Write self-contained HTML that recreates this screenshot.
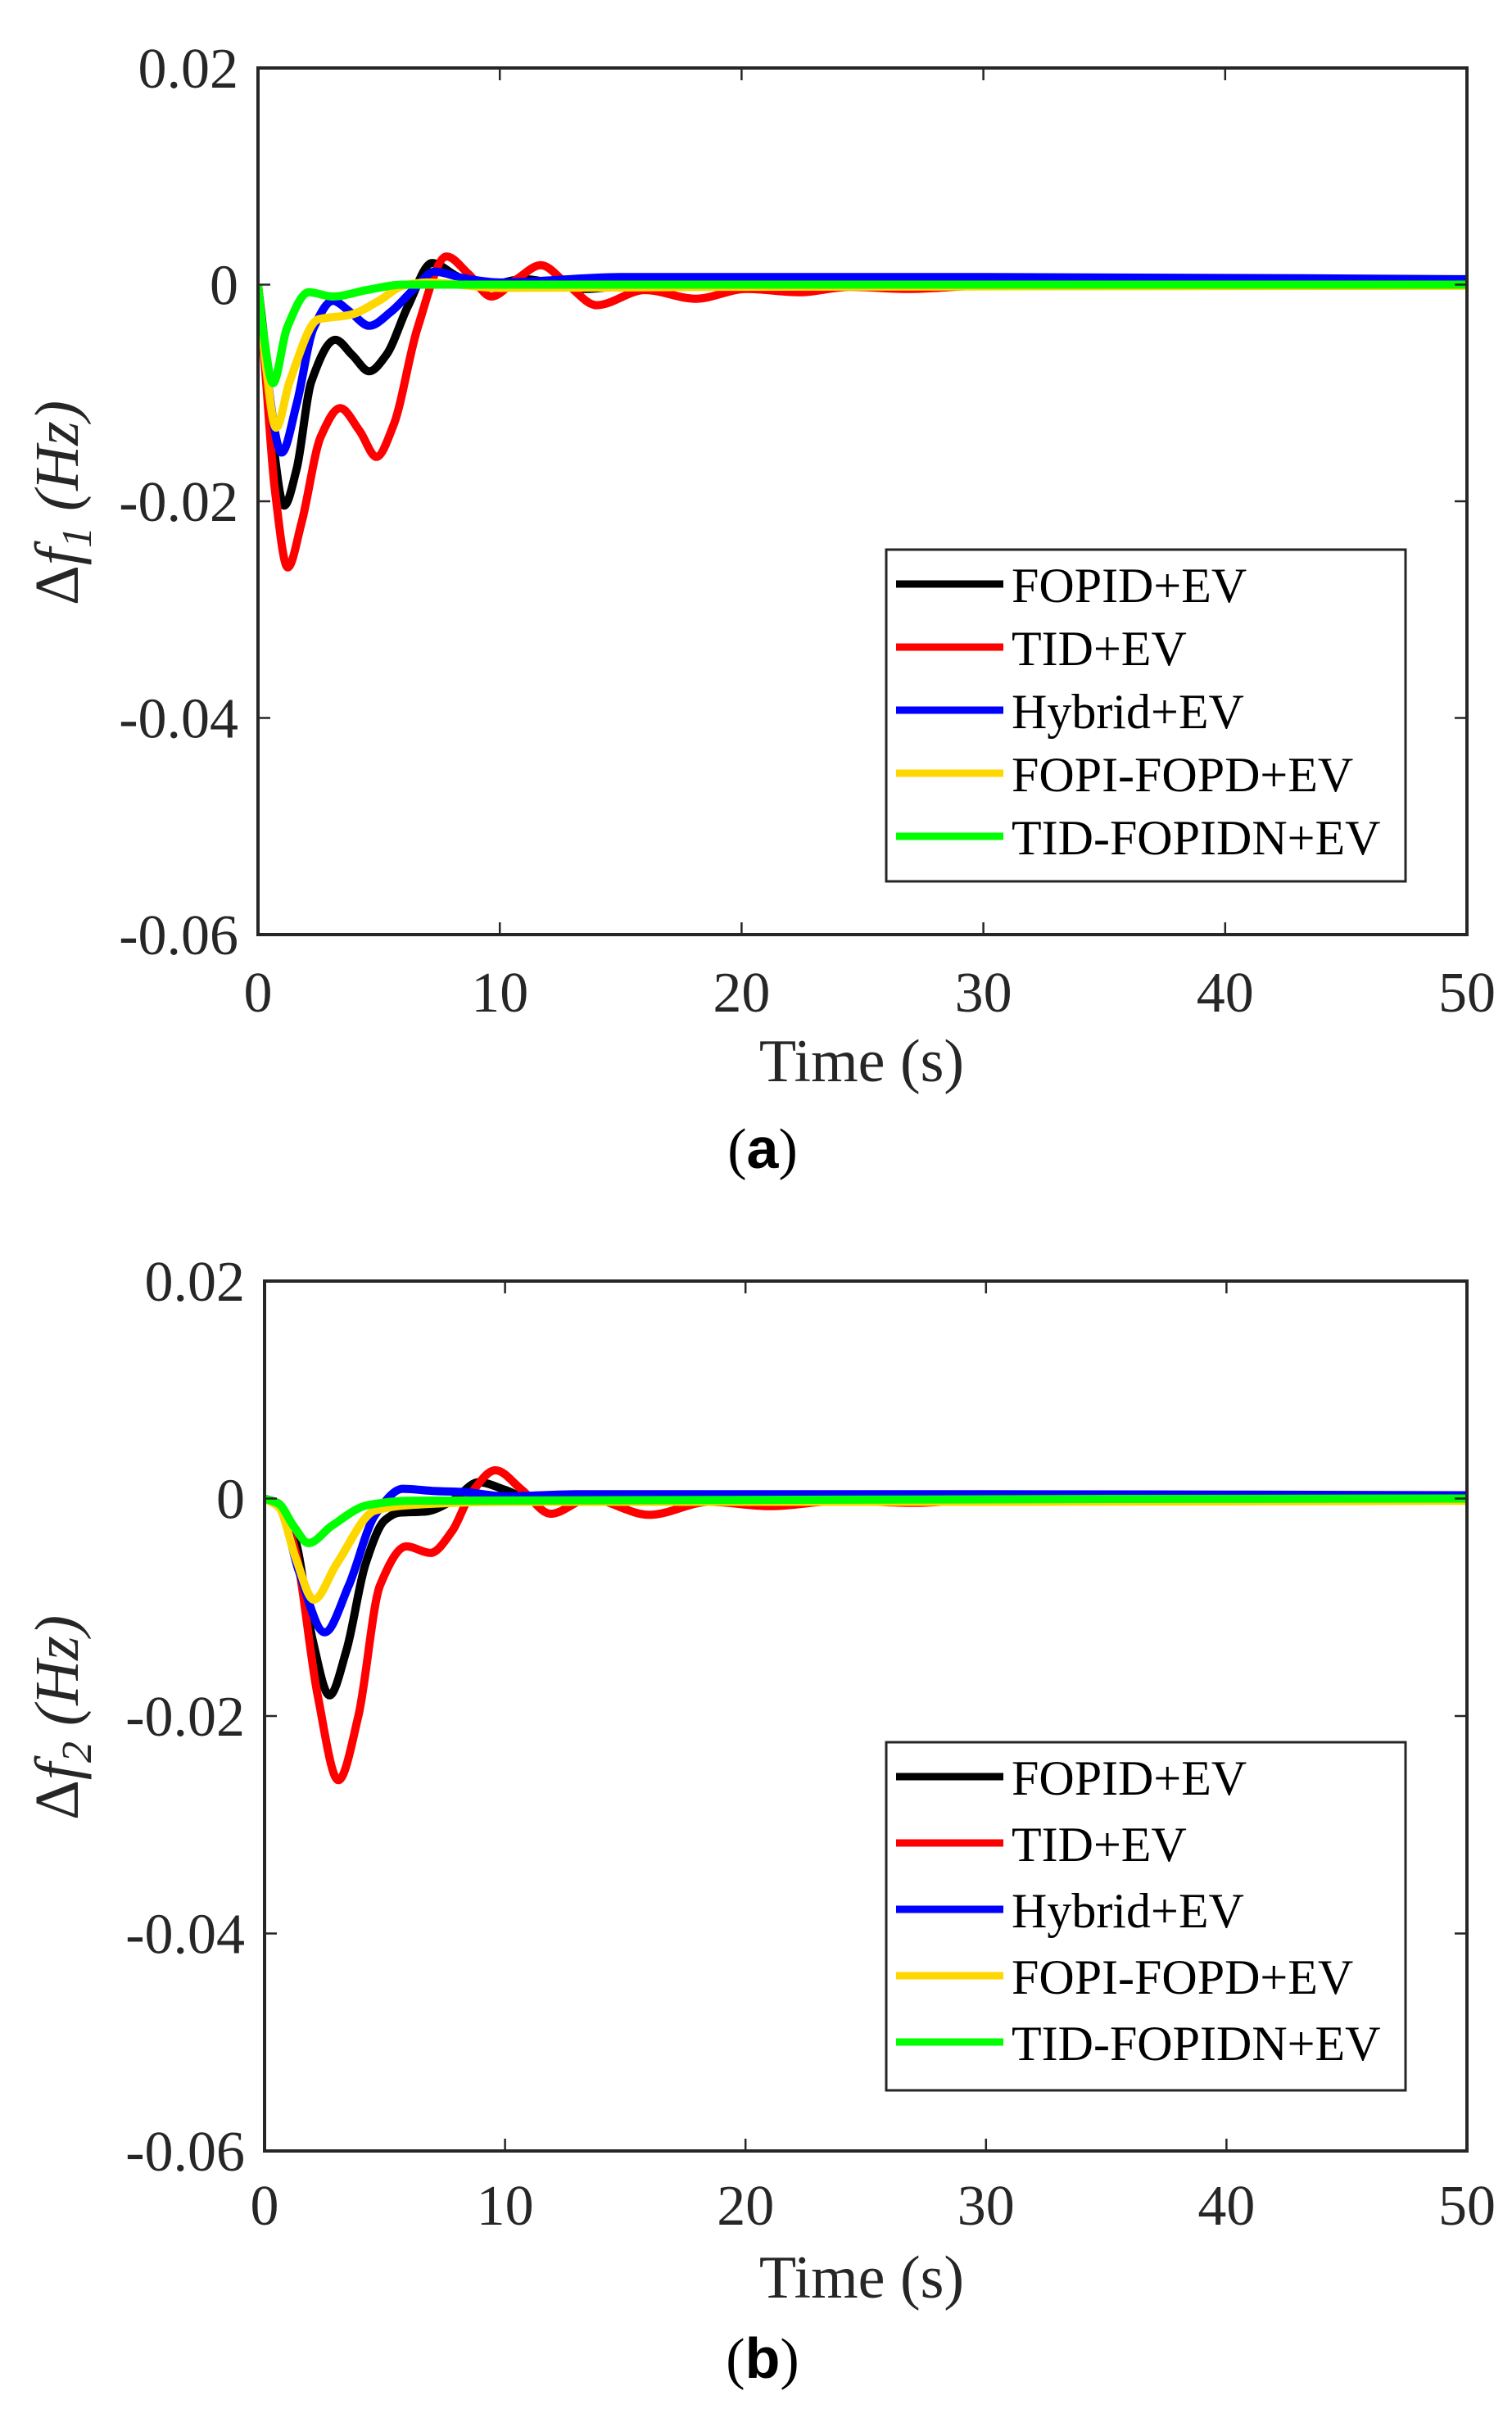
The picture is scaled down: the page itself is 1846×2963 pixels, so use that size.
<!DOCTYPE html>
<html><head><meta charset="utf-8"><style>
html,body{margin:0;padding:0;background:#fff;}
svg{display:block;}
text{font-family:"Liberation Serif",serif;fill:#262626;}
</style></head><body>
<svg id="fig" width="1846" height="2963" viewBox="0 0 1846 2963" xmlns="http://www.w3.org/2000/svg"></svg>
<script>
const seriesNames = ["FOPID+EV","TID+EV","Hybrid+EV","FOPI-FOPD+EV","TID-FOPIDN+EV"];
const seriesColors = ["#000000","#ff0000","#0000ff","#ffd700","#00ff00"];
const xTicks = [0,10,20,30,40,50];
const yTicks = [0.02,0,-0.02,-0.04,-0.06];
const yTickLabels = ["0.02","0","-0.02","-0.04","-0.06"];

// Panel (a)
const aBlackT = [0,0.3,0.6,1.08,1.6,2.2,3.2,3.9,4.6,5.3,6.2,7.2,8.2,9.2,11,13.5,16,20,50];
const aBlackV = [0,-0.006,-0.014,-0.0204,-0.017,-0.009,-0.0051,-0.0065,-0.008,-0.0065,-0.002,0.002,0.0008,-0.0002,0.0005,-0.0004,0.0001,0,0];
const aRedT = [0,0.3,0.7,1.23,1.8,2.6,3.4,4.2,4.9,5.6,6.6,7.8,8.7,9.65,10.7,11.7,12.8,14,16,18.1,20.2,22.4,24.5,26.9,30,50];
const aRedV = [0,-0.008,-0.019,-0.0261,-0.022,-0.014,-0.0114,-0.0135,-0.0159,-0.013,-0.004,0.0026,0.001,-0.0011,0.0005,0.0018,0.0,-0.0019,-0.0005,-0.0013,-0.0004,-0.0007,-0.0002,-0.0004,-0.0001,0];
const aBlueT = [0,0.3,0.98,1.6,2.3,3.1,3.8,4.6,5.5,6.5,7.3,8.5,10,15,30,50];
const aBlueV = [0,-0.007,-0.0155,-0.011,-0.004,-0.0015,-0.0025,-0.0038,-0.0025,-0.0003,0.0012,0.0006,0.0002,0.0007,0.0007,0.0005];
const aYellowT = [0,0.3,0.75,1.3,2.5,3.8,5,6,7,10,20,50];
const aYellowV = [0,-0.007,-0.0132,-0.009,-0.0032,-0.0028,-0.0015,-0.0001,0.0002,-0.0003,-0.0002,-0.0001];
const aGreenT = [0,0.2,0.62,1.2,2.1,3.1,4.5,6,50];
const aGreenV = [0,-0.004,-0.0091,-0.004,-0.0007,-0.0011,-0.0005,0,0];

// Panel (b)
const bBlackT = [0,0.6,1.3,2,2.7,3.4,4.2,5,5.6,6.7,7.8,8.9,10,11,13,50];
const bBlackV = [0,-0.0005,-0.004,-0.013,-0.0181,-0.014,-0.006,-0.002,-0.0013,-0.0012,-0.0002,0.0015,0.0008,0,0,0];
const bRedT = [0,0.6,1.3,2.2,3.07,3.9,4.8,5.9,6.9,7.8,8.6,9.6,10.7,11.9,13.5,16,18.5,21,24,27,30,50];
const bRedV = [0,-0.0005,-0.005,-0.018,-0.0259,-0.02,-0.008,-0.0044,-0.005,-0.003,0.0005,0.0026,0.0008,-0.0014,0,-0.0015,-0.0003,-0.0007,-0.0002,-0.0004,-0.0001,0];
const bBlueT = [0,0.6,1.4,2.5,3.5,4.6,5.75,7,8.3,10,13,30,50];
const bBlueV = [0,-0.0005,-0.0065,-0.0123,-0.008,-0.0015,0.0009,0.0007,0.0006,0.0002,0.0004,0.0004,0.0003];
const bYellowT = [0,0.6,1.3,2.05,3,4.6,6,10,30,50];
const bYellowV = [0,-0.0008,-0.0055,-0.0093,-0.006,-0.0011,-0.0006,-0.0003,-0.0003,-0.0002];
const bGreenT = [0,0.6,1.2,1.83,2.8,4.3,6,50];
const bGreenV = [0,-0.0005,-0.0025,-0.0041,-0.0025,-0.0006,-0.0002,0];

const NS = "http://www.w3.org/2000/svg";
const svg = document.getElementById("fig");
function mk(tag, attrs, parent){
  const e = document.createElementNS(NS, tag);
  for (const k in attrs) e.setAttribute(k, attrs[k]);
  (parent||svg).appendChild(e);
  return e;
}
function pathFrom(pts){
  const n = pts.length;
  const d = [], m = [];
  for (let i=0;i<n-1;i++) d.push((pts[i+1][1]-pts[i][1])/(pts[i+1][0]-pts[i][0]));
  m[0]=d[0]; m[n-1]=d[n-2];
  for (let i=1;i<n-1;i++){
    if (d[i-1]*d[i]<=0) m[i]=0;
    else {
      const h0=pts[i][0]-pts[i-1][0], h1=pts[i+1][0]-pts[i][0];
      const w1=2*h1+h0, w2=h1+2*h0;
      m[i]=(w1+w2)/(w1/d[i-1]+w2/d[i]);
    }
  }
  let s = "M"+pts[0][0].toFixed(1)+","+pts[0][1].toFixed(1);
  for (let i=0;i<n-1;i++){
    const h = pts[i+1][0]-pts[i][0];
    const c1x=pts[i][0]+h/3, c1y=pts[i][1]+m[i]*h/3;
    const c2x=pts[i+1][0]-h/3, c2y=pts[i+1][1]-m[i+1]*h/3;
    s+=" C"+c1x.toFixed(1)+","+c1y.toFixed(1)+" "+c2x.toFixed(1)+","+c2y.toFixed(1)+" "+pts[i+1][0].toFixed(1)+","+pts[i+1][1].toFixed(1);
  }
  return s;
}

function panel(cfg){
  const {L,R,T,B,id,sub,series,legTop,labelCY,xLabelY,capY,capText,xTickY} = cfg;
  const g = mk("g",{});
  
  
  const xs = t => L + (t-0)/(50-0)*(R-L);
  const ys = v => T + (0.02-v)/(0.08)*(B-T);
  mk("rect",{x:L,y:T,width:R-L,height:B-T,fill:"#fff"},g);
  const clipId = "clip"+id;
  const defs = mk("defs",{},g);
  const cp = mk("clipPath",{id:clipId},defs);
  mk("rect",{x:L,y:T,width:R-L,height:B-T},cp);
  const lg = mk("g",{"clip-path":"url(#"+clipId+")"},g);
  series.forEach((s,i)=>{
    const pts = s[0].map((t,j)=>[xs(t), ys(s[1][j])]);
    const p = mk("path",{d:pathFrom(pts),fill:"none",stroke:seriesColors[i],"stroke-width":10,"stroke-linejoin":"round","stroke-linecap":"butt"},lg);
    
    
  });
  const box = mk("rect",{x:L,y:T,width:R-L,height:B-T,fill:"none",stroke:"#262626","stroke-width":4},g);
  
  
  xTicks.forEach(t=>{
    const x = xs(t);
    mk("line",{x1:x,y1:B,x2:x,y2:B-15,stroke:"#262626","stroke-width":2.5},g);
    mk("line",{x1:x,y1:T,x2:x,y2:T+15,stroke:"#262626","stroke-width":2.5},g);
    const tx = mk("text",{x:x,y:xTickY,"font-size":70,"text-anchor":"middle"},g);
    tx.textContent = String(t);
    
    
  });
  yTicks.forEach((v,i)=>{
    const y = ys(v);
    mk("line",{x1:L,y1:y,x2:L+15,y2:y,stroke:"#262626","stroke-width":2.5},g);
    mk("line",{x1:R,y1:y,x2:R-15,y2:y,stroke:"#262626","stroke-width":2.5},g);
    const tx = mk("text",{x:L-24,y:y+24,"font-size":70,"text-anchor":"end"},g);
    tx.textContent = yTickLabels[i];
    
    
  });
  const yl = mk("text",{x:0,y:0,"font-size":76,"text-anchor":"middle",transform:"translate(95,"+labelCY+") rotate(-90)"},g);
  yl.innerHTML = 'Δ<tspan font-style="italic">f</tspan><tspan font-style="italic" font-size="52" dy="16">'+sub+'</tspan><tspan dy="-16"> </tspan><tspan font-style="italic">(Hz)</tspan>';
  
  
  const xl = mk("text",{x:1052,y:xLabelY,"font-size":74,"text-anchor":"middle"},g);
  xl.textContent = "Time (s)";
  
  
  const cap = mk("text",{x:931,y:capY,"font-size":70,"text-anchor":"middle"},g);
  cap.innerHTML = '(<tspan font-weight="bold" font-family="Liberation Sans, sans-serif">'+capText+'</tspan>)';
  cap.style.fill = "#000";
  
  
  const lgd = mk("g",{},g);
  
  
  const rowH = cfg.rowH;
  mk("rect",{x:1082,y:legTop,width:634,height:rowH*5+20,fill:"#fff",stroke:"#262626","stroke-width":3},lgd);
  seriesNames.forEach((n,i)=>{
    const cy = legTop + 42 + i*rowH;
    const e = mk("g",{},lgd);
    
    
    mk("line",{x1:1094,y1:cy,x2:1225,y2:cy,stroke:seriesColors[i],"stroke-width":9},e);
    const t = mk("text",{x:1235,y:cy+22,"font-size":60},e);
    t.style.fill="#000";
    t.textContent = n;
  });
}

panel({id:"a",L:315,R:1791,T:83,B:1141,sub:"1",labelCY:614,xTickY:1235,xLabelY:1320,capY:1426,capText:"a",legTop:671,rowH:77,
  series:[[aBlackT,aBlackV],[aRedT,aRedV],[aBlueT,aBlueV],[aYellowT,aYellowV],[aGreenT,aGreenV]]});
panel({id:"b",L:323,R:1791,T:1564,B:2626,sub:"2",labelCY:2097,xTickY:2716,xLabelY:2805,capY:2903,capText:"b",legTop:2127,rowH:81,
  series:[[bBlackT,bBlackV],[bRedT,bRedV],[bBlueT,bBlueV],[bYellowT,bYellowV],[bGreenT,bGreenV]]});
</script>
</body></html>
